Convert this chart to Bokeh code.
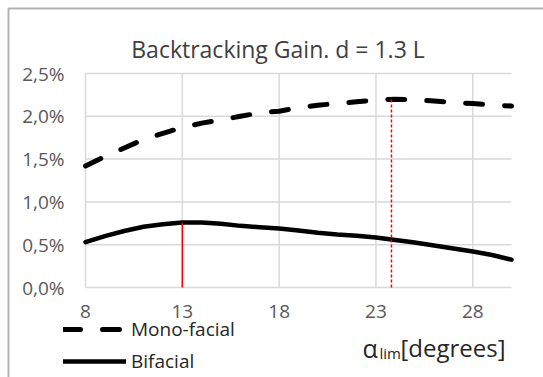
from bokeh.plotting import figure
from bokeh.models import (Range1d, FixedTicker, CustomJSTickFormatter, Label,
                          Legend, LegendItem, ColumnDataSource, LinearAxis,
                          BoxAnnotation)
from bokeh.embed import file_html
from bokeh.resources import INLINE

# ---- data ----
alpha = [8, 9, 10, 11, 12, 13, 14, 15, 16, 17, 18, 19, 20, 21, 22, 23, 24,
         25, 26, 27, 28, 29, 30]
mono_facial = [1.42, 1.53, 1.63, 1.73, 1.80, 1.87, 1.92, 1.96, 2.00, 2.04,
               2.06, 2.10, 2.13, 2.15, 2.17, 2.19, 2.20, 2.19, 2.18, 2.16,
               2.15, 2.13, 2.12]
bifacial = [0.53, 0.60, 0.66, 0.71, 0.74, 0.76, 0.76, 0.745, 0.72, 0.705,
            0.69, 0.665, 0.64, 0.62, 0.605, 0.585, 0.555, 0.525, 0.49, 0.455,
            0.42, 0.38, 0.325]
bifacial_opt_x = [13]
bifacial_opt_y = [0.76]
mono_opt_x = [23.8]
mono_opt_y = [2.20]
x_ticks = [8, 13, 18, 23, 28]
y_ticks = [0.0, 0.5, 1.0, 1.5, 2.0, 2.5]
title_text = "Backtracking Gain. d = 1.3 L"
series_names = ["Mono-facial", "Bifacial"]
axis_title = ["α", "lim", "[degrees]"]

FONT = "Open Sans"

# ---- layout (canvas pixels) ----
W, H = 543, 377
ML, MR, MT, MB = 85, 32, 73, 90     # margins around the data area
xmin, xmax = alpha[0], alpha[-1]
ymin, ymax = y_ticks[0], y_ticks[-1]
sx = (W - ML - MR) / (xmax - xmin)
sy = (H - MT - MB) / (ymax - ymin)

p = figure(width=W, height=H, output_backend="svg", toolbar_location=None,
           x_range=Range1d(xmin - ML / sx, xmax + MR / sx),
           y_range=Range1d(ymin - MB / sy, ymax + MT / sy),
           x_axis_type=None, y_axis_type=None, min_border=0)
p.outline_line_color = None
p.background_fill_color = "white"
p.border_fill_color = "white"

# axes fixed to the data area edges
xaxis = LinearAxis(fixed_location=ymin, ticker=FixedTicker(ticks=x_ticks))
yaxis = LinearAxis(fixed_location=xmin, ticker=FixedTicker(ticks=y_ticks))
yaxis.formatter = CustomJSTickFormatter(
    code="return tick.toFixed(1).replace('.', ',') + '%';")
for ax in (xaxis, yaxis):
    ax.axis_line_color = None
    ax.major_tick_line_color = None
    ax.minor_tick_line_color = None
    ax.major_tick_out = 0
    ax.major_tick_in = 0
    ax.minor_tick_out = 0
    ax.minor_tick_in = 0
    ax.major_label_text_font = FONT
    ax.major_label_text_font_size = "19px"
    ax.major_label_text_color = "#595959"
yaxis.major_label_standoff = 21
xaxis.major_label_standoff = 17
p.add_layout(xaxis, "below")
p.add_layout(yaxis, "left")

# grid lines from the tick lists
GRID = "#d9d9d9"
p.segment(x0=x_ticks, y0=[ymin] * len(x_ticks), x1=x_ticks,
          y1=[ymax] * len(x_ticks), line_color=GRID, line_width=1.5)
p.segment(x0=[xmin] * len(y_ticks), y0=y_ticks, x1=[xmax] * len(y_ticks),
          y1=y_ticks, line_color=GRID, line_width=1.5)

src = ColumnDataSource(dict(x=alpha, mono=mono_facial, bi=bifacial))

r_mono = p.line("x", "mono", source=src, line_color="black", line_width=5,
                line_dash="17 22", line_cap="round")
r_bi = p.line("x", "bi", source=src, line_color="black", line_width=4.5,
              line_cap="round")

p.segment(x0=bifacial_opt_x, y0=[ymin] * len(bifacial_opt_x),
          x1=bifacial_opt_x, y1=bifacial_opt_y, line_color="#ff0000",
          line_width=1.5)
p.segment(x0=mono_opt_x, y0=[ymin] * len(mono_opt_x), x1=mono_opt_x,
          y1=mono_opt_y, line_color="#ff0000", line_width=1.5,
          line_dash="3 2")

legend = Legend(items=[LegendItem(label=series_names[0], renderers=[r_mono]),
                       LegendItem(label=series_names[1], renderers=[r_bi])],
                location=(63, 3), orientation="vertical",
                glyph_width=63, glyph_height=22, label_height=22,
                label_standoff=5, spacing=6, padding=0, margin=0,
                border_line_color=None, background_fill_alpha=0,
                label_text_font=FONT, label_text_font_size="19px",
                label_text_color="#262626")
p.add_layout(legend, "center")

p.add_layout(Label(x=277.5, y=329, x_units="screen", y_units="screen",
                   text=title_text, text_font=FONT, text_font_size="23px",
                   text_color="#404040", text_align="center",
                   text_baseline="alphabetic"))

p.add_layout(Label(x=362, y=30, x_units="screen", y_units="screen",
                   text=axis_title[0], text_font=FONT, text_font_size="25px",
                   text_color="#262626", text_baseline="alphabetic"))
p.add_layout(Label(x=379, y=25, x_units="screen", y_units="screen",
                   text=axis_title[1], text_font=FONT, text_font_size="15px",
                   text_color="#262626", text_baseline="alphabetic"))
p.add_layout(Label(x=400, y=30, x_units="screen", y_units="screen",
                   text=axis_title[2], text_font=FONT, text_font_size="24px",
                   text_color="#262626", text_baseline="alphabetic"))

# outer frame: left and top edges only are inside the canvas
p.add_layout(BoxAnnotation(left=8, right=W + 10, top=H - 8, bottom=-10,
                           left_units="screen", right_units="screen",
                           top_units="screen", bottom_units="screen",
                           fill_alpha=0, line_color="black", line_width=2))

open("out.html", "w").write(file_html(p, INLINE))
